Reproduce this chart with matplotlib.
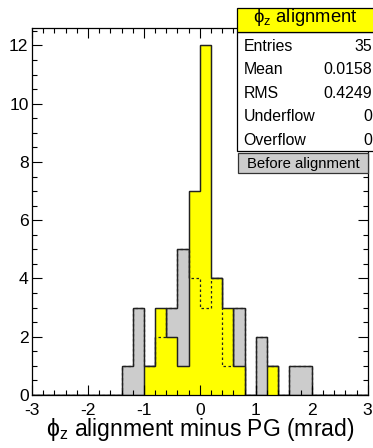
import numpy as np
import matplotlib
matplotlib.use("Agg")
import matplotlib.pyplot as plt
from matplotlib.patches import Rectangle
from matplotlib.ticker import MultipleLocator

plt.rcParams['font.family'] = ['Liberation Sans', 'DejaVu Sans']
plt.rcParams['mathtext.fontset'] = 'custom'
plt.rcParams['mathtext.rm'] = 'Liberation Sans'
plt.rcParams['axes.unicode_minus'] = False

# 30 bins of 0.2 between -3 and 3
bin_edges = np.round(np.arange(-3.0, 3.0001, 0.2), 1)

# after alignment (yellow)
after_counts = [0, 0, 0, 0, 0, 0, 0, 0, 0, 0,
                1, 3, 2, 1, 7, 12, 4, 3, 1, 0,
                0, 1, 0, 0, 0, 0, 0, 0, 0, 0]
# before alignment (grey)
before_counts = [0, 0, 0, 0, 0, 0, 0, 0, 1, 3,
                 1, 2, 3, 5, 4, 3, 4, 1, 3, 0,
                 2, 1, 0, 1, 1, 0, 0, 0, 0, 0]

stat_names = ["Entries", "Mean", "RMS", "Underflow", "Overflow"]
stat_values = ["35", "0.0158", "0.4249", "0", "0"]

W, H = 373, 448
fig = plt.figure(figsize=(W / 100, H / 100), dpi=100)

def fx(x):
    return x / W

def fy(y):
    return 1 - y / H

# frame in pixels: left 32, right 367.7, top 28, bottom 395
ax = fig.add_axes([fx(32), fy(395), (367.7 - 32) / W, (395 - 28) / H])

grey = '#cccccc'
edge = '#222222'
ax.stairs(before_counts, bin_edges, fill=True, facecolor=grey, edgecolor=edge, linewidth=0.9)
ax.stairs(before_counts, bin_edges, fill=False, edgecolor=edge, linewidth=0.9)
ax.stairs(after_counts, bin_edges, fill=True, facecolor='#ffff00', edgecolor=edge, linewidth=0.9)
ax.stairs(after_counts, bin_edges, fill=False, edgecolor=edge, linewidth=0.9)
# before-alignment outline again, dashed, on top of the yellow
ax.stairs(before_counts, bin_edges, fill=False, edgecolor=edge, linewidth=0.9, linestyle=(0, (2, 2)))

ax.set_xlim(-3, 3)
ax.set_ylim(0, 12.6)
ax.xaxis.set_major_locator(MultipleLocator(1))
ax.xaxis.set_minor_locator(MultipleLocator(0.2))
ax.yaxis.set_major_locator(MultipleLocator(2))
ax.yaxis.set_minor_locator(MultipleLocator(0.5))
ax.tick_params(which='both', direction='in', top=True, right=True, width=0.8, colors='black')
ax.tick_params(which='major', length=7.5, labelsize=12.6)
ax.tick_params(axis='x', which='major', pad=5.5)
ax.tick_params(axis='y', which='major', pad=2.5)
ax.tick_params(which='minor', length=3.5)
for s in ax.spines.values():
    s.set_linewidth(0.9)

ax.set_xlabel(r'$\mathregular{\phi_z}$ alignment minus PG (mrad)', fontsize=16.5, labelpad=-1)

# stats box
box_l, box_r = 236.7, 380
fig.patches.append(Rectangle((fx(box_l), fy(150.7)), (box_r - box_l) / W, (150.7 - 31.7) / H,
                             transform=fig.transFigure, facecolor='white', edgecolor='black',
                             linewidth=0.9, zorder=5))
fig.patches.append(Rectangle((fx(box_l), fy(31.7)), (box_r - box_l) / W, (31.7 - 8) / H,
                             transform=fig.transFigure, facecolor='#ffff00', edgecolor='black',
                             linewidth=0.9, zorder=5))
fig.text(fx(305), fy(22), r'$\mathregular{\phi_z}$ alignment', ha='center', va='baseline',
         fontsize=13.3, zorder=6)
for i, (name, val) in enumerate(zip(stat_names, stat_values)):
    base = 50.7 + i * 23.5
    fig.text(fx(243.5), fy(base), name, ha='left', va='baseline', fontsize=11.4, zorder=6)
    fig.text(fx(372.5), fy(base), val, ha='right', va='baseline', fontsize=11.4, zorder=6)

# legend box
fig.patches.append(Rectangle((fx(238.3), fy(172.7)), (367.7 - 238.3) / W, (172.7 - 153.3) / H,
                             transform=fig.transFigure, facecolor=grey, edgecolor='#333333',
                             linewidth=0.9, zorder=5))
fig.text(fx(303), fy(168), 'Before alignment', ha='center', va='baseline', fontsize=10.7, zorder=6)

fig.savefig('out.png', dpi=100)
